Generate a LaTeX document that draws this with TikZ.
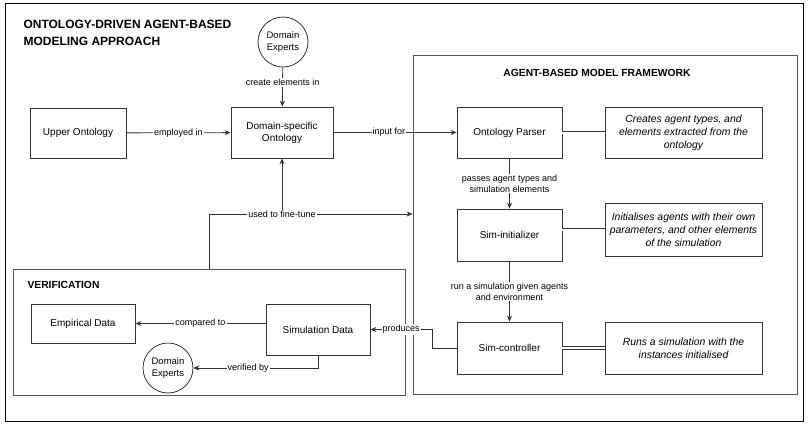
\documentclass[tikz,border=0pt]{standalone}
\usepackage{fontspec}
\setmainfont{Liberation Sans}
\usepackage{xcolor}
\usepackage{tikz}
\usetikzlibrary{arrows.meta,positioning,calc}
\definecolor{edgegray}{HTML}{333333}
\definecolor{framegray}{HTML}{555555}

\begin{document}
\begin{tikzpicture}[x=1pt, y=-1pt,
    box/.style={draw=edgegray, line width=0.8pt, fill=white, align=center, inner sep=2pt,
        font=\fontsize{10}{12}\selectfont},
    descbox/.style={box, minimum width=157, font=\fontsize{10.4}{13}\selectfont\itshape},
    expert/.style={circle, draw=edgegray, line width=0.8pt, fill=white, minimum size=50,
        inner sep=0pt, align=center, font=\fontsize{9.5}{12}\selectfont},
    frame/.style={draw=framegray, line width=0.8pt},
    arr/.style={draw=edgegray, line width=0.8pt, -{Stealth[length=6pt,width=5pt]}},
    link/.style={draw=edgegray, line width=0.6pt, double, double distance=2pt},
    lbl/.style={fill=white, inner sep=1pt, align=center, font=\fontsize{9}{11}\selectfont},
    heading/.style={font=\bfseries\fontsize{10.3}{12}\selectfont}]
\useasboundingbox (0,0) rectangle (810,426);
\draw[line width=0.8pt] (5,3) rectangle (803,421);

% big frames
\node[frame, minimum width=384, minimum height=339] (abm) at (605,224.5) {};
\node[heading] (abmtitle) at (597,73) {AGENT-BASED MODEL FRAMEWORK};
\node[frame, minimum width=392, minimum height=126] (verif) at (209,332) {};
\node[heading, anchor=west] (veriftitle) at (24,285) {VERIFICATION};

\node[anchor=north west, align=left, font=\bfseries\fontsize{12}{17}\selectfont] (title) at (20,17)
    {ONTOLOGY-DRIVEN AGENT-BASED\\MODELING APPROACH};

% ontology side
\node[expert] (expertsTop) at (283,42) {Domain\\Experts};
\node[box, minimum width=96, minimum height=50] (upper) at (78,133) {Upper Ontology};
\node[box, minimum width=102, minimum height=51] (domain) at (282,132.5) {Domain-specific\\Ontology};

% framework
\node[box, minimum width=105, minimum height=51] (parser) at (509.5,132.5) {Ontology Parser};
\node[box, minimum width=105, minimum height=52] (siminit) at (509.5,235) {Sim-initializer};
\node[box, minimum width=105, minimum height=52] (simctrl) at (509.5,348) {Sim-controller};
\node[descbox, minimum height=51] (parserDesc) at (683.5,132.5)
    {Creates agent types, and\\elements extracted from the\\ontology};
\node[descbox, minimum height=53] (initDesc) at (683.5,229.5)
    {Initialises agents with their own\\parameters, and other elements\\of the simulation};
\node[descbox, minimum height=52] (ctrlDesc) at (683.5,348)
    {Runs a simulation with the\\instances initialised};

% verification
\node[box, minimum width=104, minimum height=39] (empirical) at (83,323.5) {Empirical Data};
\node[box, minimum width=104, minimum height=51] (simdata) at (318,329.5) {Simulation Data};
\node[expert] (expertsBot) at (168,368) {Domain\\Experts};

% connectors
\draw[arr] (expertsTop) -- node[lbl, pos=0.38] {create elements in} (domain);
\draw[arr] (upper) -- node[lbl] {employed in} (domain);
\draw[arr] (domain) -- node[lbl, pos=0.45] {input for} (parser);
\draw[arr] (parser) -- node[lbl] {passes agent types and\\simulation elements} (siminit);
\draw[arr] (siminit) -- node[lbl] {run a simulation given agents\\and environment} (simctrl);

\draw[link] (parser.east) -- (parserDesc.west);
\draw[link] (initDesc.west -| siminit.east) -- (initDesc.west);
\draw[link] (simctrl.east) -- (ctrlDesc.west);

\draw[arr] (empirical.east -| simdata.west) -- node[lbl] {compared to} (empirical.east);
\draw[arr] (simdata.south) |- node[lbl, pos=0.78] {verified by} (expertsBot.east);

\coordinate (prodBend) at (432,348);
\draw[arr] (simctrl.west) -- (prodBend) |- node[lbl, pos=0.75] {produces} (simdata.east);

\coordinate (tuneJoin) at (domain.south |- 0,214);
\draw[arr] (tuneJoin) -- (domain.south);
\draw[arr] (verif.north) |- (tuneJoin -| abm.west);
\node[lbl] (tuneLbl) at (tuneJoin) {used to fine-tune};
\end{tikzpicture}
\end{document}
